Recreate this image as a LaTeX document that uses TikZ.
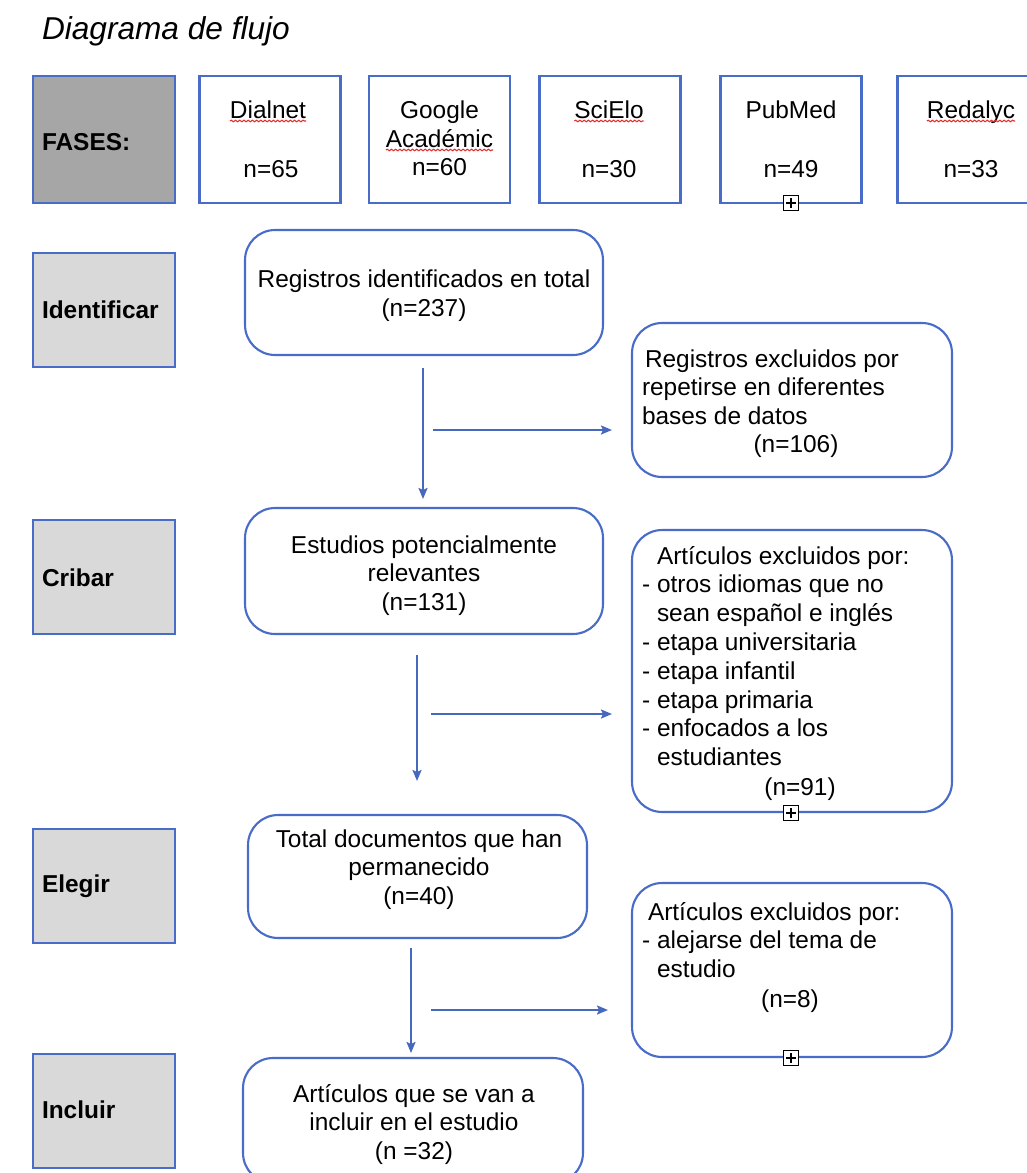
\documentclass[tikz,border=0pt]{standalone}
\usepackage{fontspec}
\setmainfont{Liberation Sans}
\usetikzlibrary{arrows.meta,decorations.pathmorphing}

\definecolor{frameblue}{RGB}{72,108,200}
\definecolor{arrowblue}{RGB}{70,104,190}
\definecolor{phasegray}{RGB}{217,217,217}
\definecolor{headgray}{RGB}{166,166,166}
\definecolor{spellred}{RGB}{225,45,45}

% fixed height of the first line of a text block, so its top is predictable
\newcommand\firstline{\rule{0pt}{0.4cm}}
% list items with a hanging dash
\newcommand\dashitem{\makebox[0.3cm][l]{-}}
\newcommand\hangitem{\hspace*{0.3cm}}

\tikzset{
  every node/.style={inner sep=0pt, outer sep=0pt, font=\fontsize{13.9pt}{16.4pt}\selectfont},
  headbox/.style={draw=frameblue, line width=1.2pt, fill=headgray, minimum width=2.84cm, minimum height=2.54cm},
  srcbox/.style={draw=frameblue, line width=1.2pt, fill=white, minimum width=2.82cm, minimum height=2.54cm},
  phasebox/.style={draw=frameblue, line width=1.2pt, fill=phasegray, minimum width=2.84cm, minimum height=2.28cm},
  flowbox/.style={draw=frameblue, line width=1.2pt, fill=white, rounded corners=0.6cm},
  phaselabel/.style={anchor=base west, font=\fontsize{13.9pt}{16.4pt}\selectfont\bfseries},
  srclabel/.style={anchor=base},
  flowarrow/.style={draw=arrowblue, line width=1.1pt, -{Stealth[length=0.22cm,width=0.18cm,inset=0.04cm]}},
  spellmark/.style={draw=spellred, line width=0.6pt, decorate,
    decoration={snake, amplitude=0.45pt, segment length=2.4pt}},
  anchormark/.style={draw=black, line width=0.6pt, fill=white, minimum size=0.3cm,
    path picture={\draw[black, line width=0.6pt]
      ([yshift=0.05cm]path picture bounding box.south) -- ([yshift=-0.05cm]path picture bounding box.north)
      ([xshift=0.05cm]path picture bounding box.west) -- ([xshift=-0.05cm]path picture bounding box.east);}},
}

\begin{document}
\begin{tikzpicture}[x=0.02cm, y=-0.02cm]
\useasboundingbox (0,0) rectangle (1027,1173);
\clip (0,0) rectangle (1027,1173);
\fill[white] (0,0) rectangle (1027,1173);

% title
\node[anchor=base west, font=\fontsize{18pt}{22pt}\selectfont\itshape] (title) at (42,39) {Diagrama de flujo};

% row of databases
\node[headbox] (fases) at (104,139.5) {};
\node[phaselabel] (fasestxt) at (42,150) {FASES:};

\node[srcbox] (dialnet) at (270,139.5) {};
\node[srclabel] (dialtxt) at (268,118) {Dialnet};
\node[srclabel] (dialn) at (271,177) {n=65};

\node[srcbox] (google) at (439.5,139.5) {};
\node[srclabel] (googtxt) at (439.5,118) {Google};
\node[srclabel] (acadtxt) at (439.5,147) {Académic};
\node[srclabel] (googn) at (439.5,175) {n=60};

\node[srcbox] (scielo) at (610,139.5) {};
\node[srclabel] (scitxt) at (609,118) {SciElo};
\node[srclabel] (scin) at (609,177) {n=30};

\node[srcbox] (pubmed) at (791,139.5) {};
\node[srclabel] (pubtxt) at (791,118) {PubMed};
\node[srclabel] (pubn) at (791,177) {n=49};

\node[srcbox] (redalyc) at (968,139.5) {};
\node[srclabel] (redtxt) at (971,118) {Redalyc};
\node[srclabel] (redn) at (971,177) {n=33};

% spelling marks under the database names
\draw[spellmark] ([yshift=-0.06cm]dialtxt.base west) -- ([yshift=-0.06cm]dialtxt.base east);
\draw[spellmark] ([yshift=-0.06cm]acadtxt.base west) -- ([yshift=-0.06cm]acadtxt.base east);
\draw[spellmark] ([yshift=-0.06cm]scitxt.base west) -- ([yshift=-0.06cm]scitxt.base east);
\draw[spellmark] ([yshift=-0.06cm]redtxt.base west) -- ([yshift=-0.06cm]redtxt.base east);

% phase labels
\node[phasebox] (identificar) at (104,310) {};
\node[phaselabel] (identtxt) at (42,318) {Identificar};
\node[phasebox] (cribar) at (104,577) {};
\node[phaselabel] (cribtxt) at (42,586) {Cribar};
\node[phasebox] (elegir) at (104,886) {};
\node[phaselabel] (elegtxt) at (42,892) {Elegir};
\node[phasebox] (incluir) at (104,1111) {};
\node[phaselabel] (inclutxt) at (42,1118) {Incluir};

% main flow
\node[flowbox, minimum width=7.16cm, minimum height=2.5cm] (reg) at (424,292.5) {};
\node[anchor=north, align=center] (regtxt) at (424,268)
  {\firstline Registros identificados en total\\(n=237)};

\node[flowbox, minimum width=7.16cm, minimum height=2.52cm] (est) at (424,571) {};
\node[anchor=north, align=center] (esttxt) at (424,533)
  {\firstline Estudios potencialmente\\relevantes\\(n=131)};

\node[flowbox, minimum width=6.78cm, minimum height=2.46cm] (tot) at (417.5,876.5) {};
\node[anchor=north, align=center] (tottxt) at (419,827)
  {\firstline Total documentos que han\\permanecido\\(n=40)};

\node[flowbox, minimum width=6.8cm, minimum height=2.5cm] (inc) at (413,1120.5) {};
\node[anchor=north, align=center] (inctxt) at (414,1082)
  {\firstline Artículos que se van a\\incluir en el estudio\\(n =32)};

% exclusion boxes
\node[flowbox, minimum width=6.4cm, minimum height=3.08cm] (exc1) at (792,400) {};
\node[anchor=north west, align=left] (exc1txt) at (642,347)
  {\firstline\hspace*{0.06cm}Registros excluidos por\\repetirse en diferentes\\bases de datos};
\node[anchor=base] (exc1n) at (796,452) {(n=106)};

\node[flowbox, minimum width=6.4cm, minimum height=5.64cm] (exc2) at (792,671) {};
\node[anchor=north west, align=left] (exc2txt) at (642,544)
  {\firstline\hangitem Artículos excluidos por:\\
   \dashitem otros idiomas que no\\
   \hangitem sean español e inglés\\
   \dashitem etapa universitaria\\
   \dashitem etapa infantil\\
   \dashitem etapa primaria\\
   \dashitem enfocados a los\\
   \hangitem estudiantes};
\node[anchor=base] (exc2n) at (800,795) {(n=91)};

\node[flowbox, minimum width=6.4cm, minimum height=3.48cm] (exc3) at (792,970) {};
\node[anchor=north west, align=left] (exc3txt) at (642,900)
  {\firstline\hspace*{0.12cm}Artículos excluidos por:\\
   \dashitem alejarse del tema de\\
   \hangitem estudio};
\node[anchor=base] (exc3n) at (790,1007) {(n=8)};

% anchor markers
\node[anchormark] (mark1) at (791,203) {};
\node[anchormark] (mark2) at (791,813) {};
\node[anchormark] (mark3) at (791,1058) {};

% arrows
\coordinate (down1a) at (423,368);
\coordinate (down1b) at (423,499);
\coordinate (side1a) at (433,430);
\coordinate (side1b) at (612,430);
\coordinate (down2a) at (417,655);
\coordinate (down2b) at (417,781);
\coordinate (side2a) at (431,714);
\coordinate (side2b) at (612,714);
\coordinate (down3a) at (411,948);
\coordinate (down3b) at (411,1053);
\coordinate (side3a) at (431,1010);
\coordinate (side3b) at (608,1010);

\draw[flowarrow] (down1a) -- (down1b);
\draw[flowarrow] (side1a) -- (side1b);
\draw[flowarrow] (down2a) -- (down2b);
\draw[flowarrow] (side2a) -- (side2b);
\draw[flowarrow] (down3a) -- (down3b);
\draw[flowarrow] (side3a) -- (side3b);
\end{tikzpicture}
\end{document}
